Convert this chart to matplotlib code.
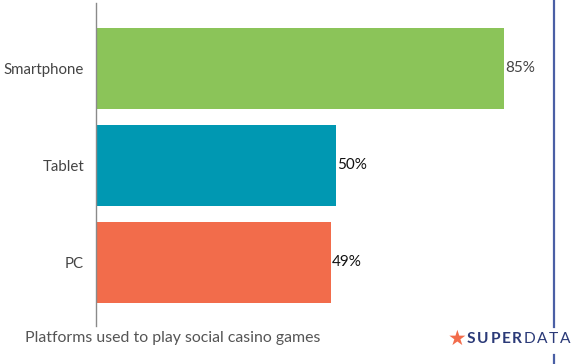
import matplotlib
matplotlib.use('Agg')
import matplotlib.pyplot as plt
from matplotlib.lines import Line2D

# Data
platforms = ['Smartphone', 'Tablet', 'PC']
shares = [85, 50, 49]
bar_colors = ['#8BC459', '#0098B2', '#F26C4B']
label_colors = ['#444444', '#111111', '#111111']
caption = 'Platforms used to play social casino games'

plt.rcParams['font.family'] = ['Lato', 'DejaVu Sans']

fig = plt.figure(figsize=(5.79, 3.64), dpi=100)
W, H = 579, 364
ax = fig.add_axes([96 / W, 1 - 326 / H, 480 / W, 323 / H])

ypos = list(range(len(platforms)))
ax.barh(ypos, shares, height=0.835, color=bar_colors)
for y, v, c in zip(ypos, shares, label_colors):
    ax.text(v + 0.2, y, f'{v}%', va='center', ha='left', fontsize=11, color=c)

ax.set_xlim(0, 100)
ax.set_ylim(2.655, -0.675)
ax.set_yticks(ypos)
ax.set_yticklabels(platforms, fontsize=10.8, color='#444444')
ax.tick_params(axis='y', length=0, pad=8.5)
ax.set_xticks([])
for s in ['top', 'right', 'bottom']:
    ax.spines[s].set_visible(False)
ax.spines['left'].set_color('#8a8a8a')
ax.spines['left'].set_linewidth(1)

# caption
fig.text(25 / W, 1 - 338 / H, caption, fontsize=11.4, color='#555555',
         va='center', ha='left')

# decorative vertical line on the right
fig.add_artist(Line2D([554 / W, 554 / W], [1 - 327 / H, 1.0],
                      color='#4A5FA5', linewidth=1.6))
fig.add_artist(Line2D([554 / W, 554 / W], [0, 1 - 355 / H],
                      color='#4A5FA5', linewidth=1.6))

# logo: star + letter-spaced SUPERDATA
fig.text(457 / W, 1 - 339 / H, '\u2605', fontsize=15, color='#F26C4B',
         va='center', ha='center', family=['DejaVu Sans'])
x = 467
for i, ch in enumerate('SUPERDATA'):
    t = fig.text(x / W, 1 - 339 / H, ch, fontsize=11.2, color='#2B3A78',
                 fontweight='bold' if i < 5 else 'normal',
                 va='center', ha='left')
    fig.canvas.draw()
    x = t.get_window_extent().x1 + 1.6

fig.savefig('out.png', dpi=100)
